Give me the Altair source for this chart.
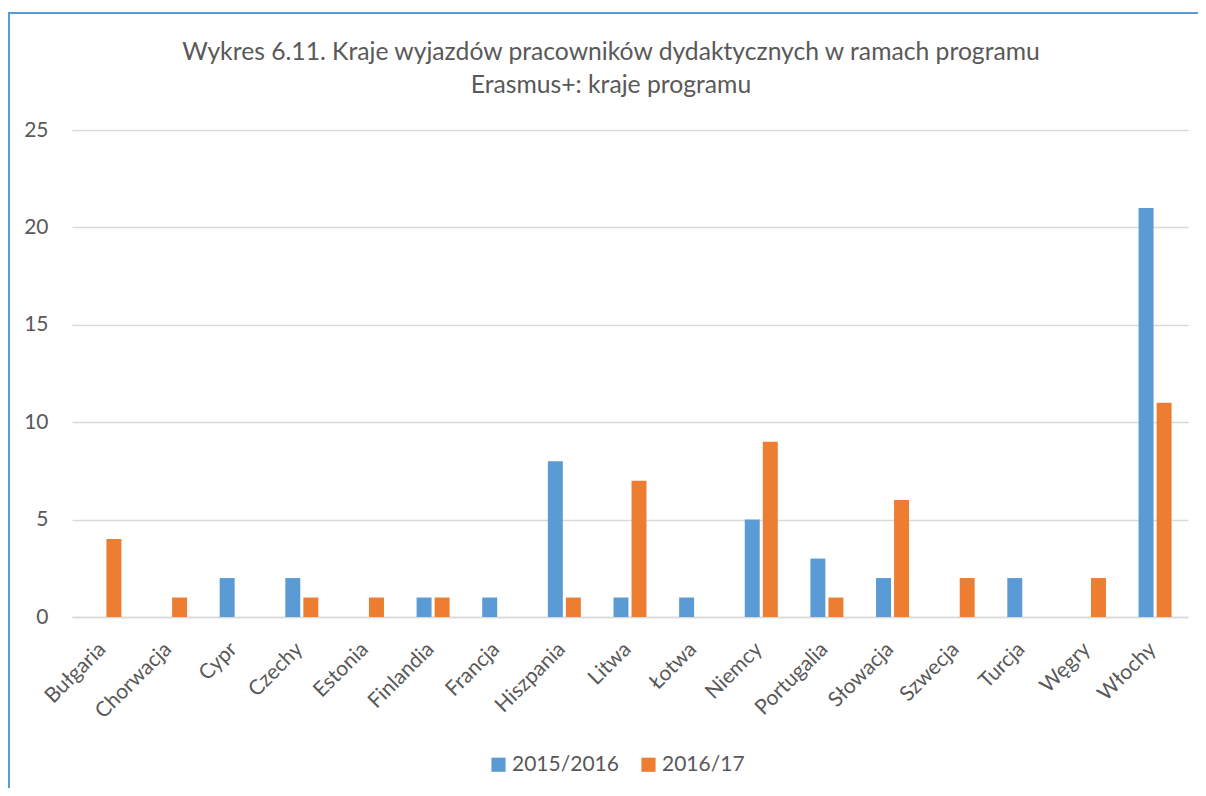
import altair as alt
import pandas as pd

countries = ["Bułgaria", "Chorwacja", "Cypr", "Czechy", "Estonia", "Finlandia", "Francja",
             "Hiszpania", "Litwa", "Łotwa", "Niemcy", "Portugalia", "Słowacja", "Szwecja",
             "Turcja", "Węgry", "Włochy"]
s2015 = [0, 0, 2, 2, 0, 1, 1, 8, 1, 1, 5, 3, 2, 0, 2, 0, 21]
s2016 = [4, 1, 0, 1, 1, 1, 0, 1, 7, 0, 9, 1, 6, 2, 0, 2, 11]
series = ["2015/2016", "2016/17"]
colors = ["#5B9BD5", "#ED7D31"]
title_lines = ["Wykres 6.11. Kraje wyjazdów pracowników dydaktycznych w ramach programu",
               "Erasmus+: kraje programu"]

rows = []
for c, a, b in zip(countries, s2015, s2016):
    rows.append({"kraj": c, "seria": series[0], "v": a})
    rows.append({"kraj": c, "seria": series[1], "v": b})
df = pd.DataFrame(rows)

FONT = "Lato"
GREY = "#595959"
LS = 21

bars = alt.Chart(df).mark_bar().encode(
    x=alt.X("kraj:N", sort=countries, title=None,
            scale=alt.Scale(paddingInner=0.497, paddingOuter=0.25),
            axis=alt.Axis(labelAngle=-45, labelFontSize=LS, labelColor=GREY, labelFont=FONT,
                          ticks=False, domain=True, domainColor="#D9D9D9", domainWidth=1.5,
                          labelPadding=21, labelOffset=-10, grid=False)),
    xOffset=alt.XOffset("seria:N", sort=series, scale=alt.Scale(paddingInner=0.17, paddingOuter=0)),
    y=alt.Y("v:Q", title=None,
            scale=alt.Scale(domain=[0, 25]),
            axis=alt.Axis(values=[0, 5, 10, 15, 20, 25], labelFontSize=LS, labelColor=GREY,
                          labelFont=FONT, ticks=False, domain=False, gridColor="#D9D9D9",
                          gridWidth=1.5, labelPadding=24)),
    color=alt.Color("seria:N", sort=series, scale=alt.Scale(domain=series, range=colors),
                    legend=alt.Legend(title=None, orient="none", direction="horizontal",
                                      legendX=416, legendY=624, symbolType="square",
                                      symbolSize=200, symbolStrokeWidth=0,
                                      labelFontSize=LS, labelColor=GREY, labelFont=FONT,
                                      columnPadding=19, labelOffset=3)),
)

t1 = alt.Chart(pd.DataFrame({"t": [title_lines[0]]})).mark_text(
    font=FONT, fontSize=24.7, color=GREY, align="center", baseline="alphabetic").encode(
    text="t:N", x=alt.value(539), y=alt.value(-70))
t2 = alt.Chart(pd.DataFrame({"t": [title_lines[1]]})).mark_text(
    font=FONT, fontSize=24.7, color=GREY, align="center", baseline="alphabetic").encode(
    text="t:N", x=alt.value(539), y=alt.value(-37))

border_top = alt.Chart(df).mark_rule(color="#5B9BD5", strokeWidth=2, clip=False).encode(
    x=alt.value(-64), x2=alt.value(1126), y=alt.value(-117))
border_left = alt.Chart(df).mark_rule(color="#5B9BD5", strokeWidth=2, clip=False).encode(
    x=alt.value(-63), y=alt.value(-118), y2=alt.value(700))

chart = alt.layer(bars, t1, t2, border_top, border_left).properties(
    width=1116, height=487,
    autosize=alt.AutoSizeParams(type="none"),
    padding={"left": 64, "top": 122, "right": 10, "bottom": 171},
).configure_view(stroke=None)

chart.save("out.html", embed_options={"renderer": "svg", "actions": False})
